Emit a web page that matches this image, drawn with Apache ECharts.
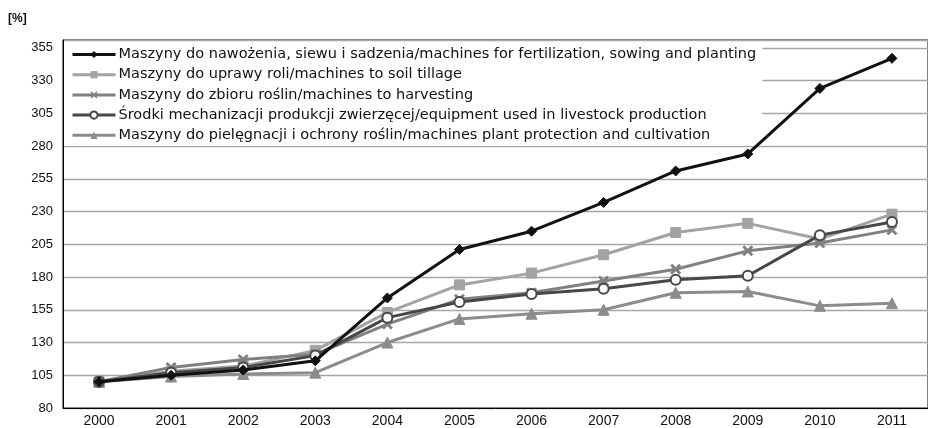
<!DOCTYPE html>
<html>
<head>
<meta charset="utf-8">
<script src="https://cdn.jsdelivr.net/npm/echarts@6/dist/echarts.min.js"></script>
<style>
  html, body { margin: 0; padding: 0; background: #fff; }
  #chart { width: 928px; height: 428px; }
</style>
</head>
<body>
<div id="chart"></div>
<script>
// lata / years
const years = ['2000', '2001', '2002', '2003', '2004', '2005', '2006', '2007', '2008', '2009', '2010', '2011']

// wartości [%]
const fertilization = [100, 105, 109, 116, 164, 201, 215, 237, 261, 274, 324, 347]
const tillage = [100, 108, 112, 124, 153, 174, 183, 197, 214, 221, 209, 228]
const harvesting = [100, 111, 117, 121, 144, 163, 168, 177, 186, 200, 206, 216]
const livestock = [100, 107, 111, 120, 149, 161, 167, 171, 178, 181, 212, 222]
const protection = [100, 104, 106, 107, 130, 148, 152, 155, 168, 169, 158, 160]

const seriesNames = [
  'Maszyny do nawożenia, siewu i sadzenia/machines for fertilization, sowing and planting',
  'Maszyny do uprawy roli/machines to soil tillage',
  'Maszyny do zbioru roślin/machines to harvesting',
  'Środki mechanizacji produkcji zwierzęcej/equipment used in livestock production',
  'Maszyny do pielęgnacji i ochrony roślin/machines plant protection and cultivation'
]

const yMin = 80
const yMax = 361
const yStep = 25

// X marker
const crossPath = 'path://M0,1.5L1.5,0L5,3.5L8.5,0L10,1.5L6.5,5L10,8.5L8.5,10L5,6.5L1.5,10L0,8.5L3.5,5Z'

const chart = echarts.init(document.getElementById('chart'))

const makeLine = (name, data, color, symbol, size, z, extra) => Object.assign({
  name,
  type: 'line',
  data,
  symbol,
  symbolSize: size,
  z,
  lineStyle: { color, width: 3 },
  itemStyle: { color, borderColor: color },
  animation: false
}, extra || {})

const option = {
  backgroundColor: '#fff',
  textStyle: { fontFamily: 'Liberation Sans, Arial, sans-serif' },
  grid: {
    left: 63,
    top: 40,
    width: 877,
    height: 369,
    show: true,
    borderColor: '#000',
    borderWidth: 1
  },
  legend: {
    orient: 'vertical',
    left: 64,
    top: 43,
    itemWidth: 43,
    itemHeight: 9,
    itemGap: 5.2,
    padding: [4, 6, 3, 7],
    backgroundColor: '#fff',
    lineStyle: { width: 3 },
    textStyle: { fontSize: 14.5, color: '#111', lineHeight: 14, padding: [0, 0, 0, -2], fontFamily: 'DejaVu Sans' },
    data: seriesNames
  },
  xAxis: {
    type: 'category',
    data: years,
    boundaryGap: true,
    axisLine: { lineStyle: { color: '#000', width: 1 } },
    axisTick: { inside: true, length: 5, lineStyle: { color: '#000' } },
    axisLabel: { fontSize: 14, color: '#111', margin: 6 }
  },
  yAxis: {
    type: 'value',
    min: yMin,
    max: yMax,
    interval: yStep,
    axisLine: { show: true, lineStyle: { color: '#000', width: 1 } },
    axisTick: { show: false },
    axisLabel: { fontSize: 13, color: '#111', margin: 10, showMaxLabel: false },
    splitLine: { lineStyle: { color: '#a6a6a6', width: 1.3 } }
  },
  graphic: [
    {
      type: 'text',
      left: 8,
      top: 13,
      style: { text: '[%]', fontSize: 12, fontWeight: 'bold', fill: '#111', fontFamily: 'Liberation Sans, Arial, sans-serif' }
    }
  ],
  series: [
    makeLine(seriesNames[0], fertilization, '#111111', 'diamond', 10, 6),
    makeLine(seriesNames[1], tillage, '#a3a3a3', 'rect', 10, 3),
    makeLine(seriesNames[2], harvesting, '#808080', crossPath, 10, 4),
    makeLine(seriesNames[3], livestock, '#474747', 'emptyCircle', 10, 5, {
      itemStyle: { color: '#474747', borderWidth: 1.2 }
    }),
    makeLine(seriesNames[4], protection, '#8c8c8c', 'triangle', 11, 2)
  ]
}

chart.setOption(option)
</script>
</body>
</html>
